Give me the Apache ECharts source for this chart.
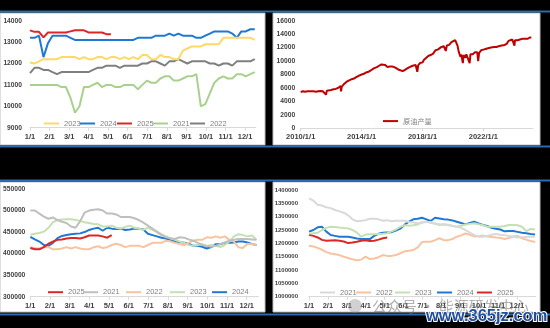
<!DOCTYPE html>
<html><head><meta charset="utf-8">
<script src="https://cdn.jsdelivr.net/npm/echarts@6/dist/echarts.min.js"></script>
<style>html,body{margin:0;padding:0;background:#000}#c{width:550px;height:328px}</style>
</head><body><div id="c"></div>
<script>
// ---------- Chart 1 (top-left): weekly values, week 0 = 1/1 ----------
const c1Years = ['2023','2024','2025','2021','2022'];
const c1_2023 = [12050,12000,12100,12200,12200,12200,12200,12300,12300,12300,12300,12200,12300,12200,12200,12300,12300,12200,12300,12300,12200,12300,12200,12300,12200,12400,12400,12200,12200,12400,12300,12300,12200,12200,12600,12700,12800,12800,12800,12900,12900,12900,12900,13200,13200,13200,13200,13200,13200,13200,13100];
const c1_2024 = [13200,13200,13300,12300,12950,13300,13300,13300,13300,13200,13100,13100,13100,13100,13100,13100,13100,13100,13100,13100,13100,13100,13100,13100,13200,13200,13200,13200,13300,13300,13300,13400,13300,13400,13300,13300,13300,13200,13200,13300,13400,13500,13500,13500,13500,13400,13200,13500,13500,13600,13600];
const c1_2025 = [13550,13480,13480,13220,13450,13450,13450,13450,13450,13500,13550,13550,13550,13450,13450,13450,13450,13370,13370];
const c1_2021 = [11000,11000,11000,11000,11000,11000,11000,10900,10900,10400,9700,10000,10900,10900,11000,11100,10900,11000,11000,10900,10900,11000,11000,11000,10800,11000,11200,11100,11100,11300,11400,11400,11200,11200,11300,11400,11400,11500,10000,10100,10600,11100,11300,11400,11300,11300,11500,11500,11400,11500,11600];
const c1_2022 = [11550,11800,11800,11700,11700,11600,11500,11600,11600,11600,11600,11600,11600,11600,11700,11800,11800,11900,11900,11900,11800,11900,11900,11900,11900,12000,12000,12100,12100,12000,11900,12100,12100,12200,12100,12000,12100,12100,12100,12100,12000,12000,11900,12000,12000,11900,12100,12100,12100,12100,12200];

// ---------- Chart 2 (top-right): crude production, t = years since 2010/1/1 ----------
const prodT = [0,0.15,0.3,0.45,0.55,0.65,0.85,1.0,1.05,1.15,1.3,1.45,1.55,1.66,1.72,1.85,2.0,2.15,2.3,2.45,2.55,2.62,2.65,2.7,2.85,3.0,3.15,3.35,3.5,3.65,3.8,4.0,4.15,4.3,4.45,4.6,4.8,5.0,5.15,5.3,5.42,5.55,5.7,5.85,6.0,6.15,6.3,6.45,6.55,6.7,6.85,7.0,7.15,7.35,7.55,7.62,7.66,7.72,7.85,8.0,8.1,8.25,8.4,8.55,8.7,8.85,9.0,9.1,9.25,9.4,9.5,9.53,9.6,9.75,9.9,10.0,10.15,10.2,10.3,10.38,10.45,10.5,10.55,10.65,10.7,10.78,10.82,10.88,11.0,11.1,11.15,11.3,11.45,11.6,11.66,11.72,11.85,12.0,12.15,12.3,12.5,12.7,12.85,13.0,13.2,13.4,13.55,13.65,13.75,13.9,14.0,14.04,14.08,14.25,14.4,14.55,14.7,14.8,14.9,15.0,15.05,15.1,15.15];
const prodV = [5400,5500,5450,5500,5300,5500,5500,5450,5250,5500,5550,5500,5600,5000,5600,5650,5700,5800,5850,6000,6200,6300,5500,6200,6600,6900,7100,7300,7400,7600,7800,8000,8100,8300,8400,8600,8900,9100,9300,9500,9600,9400,9100,9200,9200,9100,8900,8700,8500,8500,8700,8900,9100,9300,9400,9500,8400,9400,9700,9800,10200,10500,10800,10900,11100,11600,11700,11900,12100,12200,12200,11500,12300,12400,12800,12900,13100,13000,12300,11400,11200,10600,11000,9700,10900,11000,10500,11000,11000,9700,11000,11000,11300,11300,10000,11200,11600,11700,11800,11900,12000,12100,12100,12200,12300,12400,12600,13000,13200,13200,13300,12300,13100,13100,13200,13300,13300,13500,13300,13500,13500,13400,13500];

// ---------- Chart 3 (bottom-left) ----------
const c3Years = ['2025','2021','2022','2023','2024'];
const c3_2025 = [413000,410000,410000,415000,423000,428000,432000,433000,435000,436000,436000,435000,438000,442000,442000,442000,440000,437000,443000];
const c3_2021 = [500000,500000,493000,486000,481000,484000,478000,474000,471000,463000,460000,475000,495000,500000,502000,503000,500000,493000,493000,491000,485000,485000,485000,482000,478000,472000,465000,458000,450000,443000,438000,436000,434000,438000,437000,433000,430000,425000,420000,418000,416000,418000,422000,426000,430000,432000,434000,434000,434000,433000,432000];
const c3_2022 = [415000,413000,412000,415000,415000,410000,410000,412000,415000,412000,415000,412000,410000,410000,415000,417000,413000,415000,420000,423000,420000,415000,418000,418000,418000,415000,420000,425000,425000,425000,430000,428000,425000,422000,420000,425000,430000,432000,432000,438000,437000,440000,437000,440000,432000,428000,415000,413000,423000,422000,420000];
const c3_2023 = [444000,446000,448000,451000,460000,473000,478000,479000,480000,480000,478000,476000,473000,471000,469000,468000,463000,463000,465000,460000,458000,462000,465000,460000,458000,455000,460000,455000,452000,445000,440000,435000,432000,428000,425000,420000,418000,420000,422000,418000,420000,418000,415000,420000,428000,440000,445000,443000,440000,442000,432000];
const c3_2024 = [439000,433000,428000,420000,418000,425000,436000,441000,443000,445000,446000,447000,450000,455000,458000,460000,453000,460000,458000,457000,458000,455000,456000,458000,458000,456000,446000,443000,440000,437000,435000,432000,428000,427000,425000,423000,418000,418000,416000,412000,415000,422000,422000,425000,425000,426000,428000,428000,426000,422000,420000];

// ---------- Chart 4 (bottom-right) ----------
const c4Years = ['2021','2022','2023','2024','2025'];
const c4_2021 = [1369000,1360000,1345000,1342000,1335000,1332000,1325000,1320000,1315000,1305000,1290000,1283000,1285000,1287000,1292000,1292000,1290000,1285000,1287000,1283000,1285000,1285000,1285000,1280000,1278000,1275000,1278000,1280000,1280000,1275000,1272000,1270000,1268000,1265000,1262000,1258000,1250000,1240000,1232000,1225000,1225000,1228000,1232000,1235000,1232000,1230000,1228000,1225000,1222000,1223000,1224000,1225000,1225000];
const c4_2022 = [1191000,1188000,1183000,1176000,1167000,1162000,1159000,1156000,1150000,1145000,1140000,1137000,1139000,1150000,1141000,1143000,1148000,1156000,1153000,1153000,1156000,1163000,1170000,1172000,1175000,1185000,1205000,1206000,1206000,1212000,1219000,1212000,1212000,1216000,1225000,1230000,1237000,1232000,1226000,1227000,1229000,1226000,1224000,1222000,1221000,1216000,1220000,1226000,1228000,1219000,1214000,1209000,1205000];
const c4_2023 = [1237000,1238000,1240000,1250000,1258000,1262000,1261000,1259000,1258000,1256000,1250000,1241000,1225000,1233000,1234000,1234000,1235000,1236000,1238000,1245000,1252000,1262000,1268000,1266000,1268000,1271000,1278000,1281000,1277000,1273000,1269000,1272000,1270000,1266000,1262000,1266000,1271000,1273000,1275000,1272000,1268000,1262000,1262000,1262000,1262000,1265000,1269000,1269000,1268000,1262000,1246000,1254000,1252000];
const c4_2024 = [1244000,1250000,1260000,1262000,1244000,1231000,1228000,1225000,1225000,1225000,1222000,1218000,1216000,1216000,1216000,1228000,1236000,1240000,1241000,1242000,1248000,1255000,1270000,1281000,1290000,1292000,1296000,1290000,1284000,1296000,1293000,1290000,1289000,1286000,1281000,1276000,1271000,1276000,1281000,1275000,1269000,1265000,1258000,1255000,1252000,1245000,1246000,1246000,1243000,1240000,1238000,1235000,1233000];
const c4_2025 = [1232000,1228000,1222000,1213000,1210000,1211000,1212000,1210000,1207000,1201000,1203000,1206000,1210000,1212000,1209000,1210000,1214000,1219000,1222000];

const monthLabels = ['1/1','2/1','3/1','4/1','5/1','6/1','7/1','8/1','9/1','10/1','11/1','12/1'];
const prodName = '原油产量';
// ---------------------------------------------------------------------

const W2M = 7 / 30.44; // week index -> months after 1/1 (date axis position)
const wk = arr => arr.map((v, i) => [i * W2M, v]);

const BLUE = '#1f78d1', RED = '#dd2626';
const colors1 = {'2023':'#ffd966','2024':BLUE,'2025':RED,'2021':'#a9d18e','2022':'#7f7f7f'};
const colors3 = {'2025':RED,'2021':'#bfbfbf','2022':'#f8c3a0','2023':'#c5e0b4','2024':BLUE};
const colors4 = {'2021':'#d9d9d9','2022':'#f8c3a0','2023':'#c5e0b4','2024':BLUE,'2025':RED};
const d1 = {'2023':c1_2023,'2024':c1_2024,'2025':c1_2025,'2021':c1_2021,'2022':c1_2022};
const d3 = {'2025':c3_2025,'2021':c3_2021,'2022':c3_2022,'2023':c3_2023,'2024':c3_2024};
const d4 = {'2021':c4_2021,'2022':c4_2022,'2023':c4_2023,'2024':c4_2024,'2025':c4_2025};

const FONT = 'Liberation Sans';
const axisX = (grid, max, interval, fmt) => ({
  type: 'value', gridIndex: grid, min: 0, max, interval,
  axisLine: {show: true, lineStyle: {color: '#d9d9d9', width: 1}},
  axisTick: {show: true, length: 3, lineStyle: {color: '#d9d9d9'}},
  splitLine: {show: false},
  axisLabel: {formatter: fmt, fontSize: 7.5, fontWeight: 'bold', color: '#404040', margin: 5, showMaxLabel: false, fontFamily: FONT}
});
const axisY = (grid, min, max, interval, fs, margin) => ({
  type: 'value', gridIndex: grid, min, max, interval,
  axisLine: {show: false}, axisTick: {show: false}, splitLine: {show: false},
  axisLabel: {formatter: v => String(Math.round(v)), fontSize: fs, fontWeight: 'bold', color: '#404040', margin, fontFamily: FONT}
});
const mFmt = v => monthLabels[Math.round(v)] || '';

const series = [];
const legends = [];
const legendBase = {itemWidth: 15, itemHeight: 2, itemGap: 0, icon: 'rect', selectedMode: false, padding: 0};
function addChart(idx, prefix, years, data, colors, legendLefts, legendTop) {
  years.forEach((y, k) => {
    const name = prefix + '_' + y;
    series.push({
      name, type: 'line', xAxisIndex: idx, yAxisIndex: idx, data: wk(data[y]),
      symbol: 'none', showSymbol: false, animation: false,
      lineStyle: {width: 2, color: colors[y]}, itemStyle: {color: colors[y]},
      z: 2 + (years.length - k)
    });
    legends.push(Object.assign({}, legendBase, {
      left: legendLefts[k], top: legendTop, data: [name], formatter: n => n.split('_')[1],
      textStyle: {fontSize: 7.5, color: '#808080', fontFamily: FONT}
    }));
  });
}
addChart(0, 'a', c1Years, d1, colors1, [44, 80, 117, 153, 190], 119.5);
addChart(2, 'c', c3Years, d3, colors3, [48, 83, 126, 170, 212], 288.2);
addChart(3, 'd', c4Years, d4, colors4, [320, 356, 395, 437, 477], 288.5);

series.push({
  name: prodName, type: 'line', xAxisIndex: 1, yAxisIndex: 1,
  data: prodT.map((t, i) => [t, prodV[i]]),
  symbol: 'none', showSymbol: false, animation: false,
  lineStyle: {width: 2, color: '#c00000'}, itemStyle: {color: '#c00000'}
});
legends.push(Object.assign({}, legendBase, {
  left: 383, top: 117.5, data: [prodName],
  textStyle: {fontSize: 7.2, color: '#808080', fontFamily: 'Noto Sans CJK SC'}
}));

const SEP = '#2a6aae';
const graphic = [
  {type: 'rect', z: -10, shape: {x: 0, y: 13, width: 265, height: 132}, style: {fill: '#fff', stroke: '#bfbfbf', lineWidth: 1}},
  {type: 'rect', z: -10, shape: {x: 273, y: 13, width: 267, height: 132}, style: {fill: '#fff', stroke: '#bfbfbf', lineWidth: 1}},
  {type: 'rect', z: -10, shape: {x: 0, y: 182, width: 265, height: 130}, style: {fill: '#fff', stroke: '#bfbfbf', lineWidth: 1}},
  {type: 'rect', z: -10, shape: {x: 273, y: 182, width: 267, height: 130}, style: {fill: '#fff', stroke: '#bfbfbf', lineWidth: 1}},
  {type: 'rect', z: -5, shape: {x: 0, y: 10.5, width: 550, height: 2}, style: {fill: SEP}},
  {type: 'rect', z: -5, shape: {x: 0, y: 145.5, width: 550, height: 2}, style: {fill: SEP}},
  {type: 'rect', z: -5, shape: {x: 0, y: 179.5, width: 550, height: 2}, style: {fill: SEP}},
  {type: 'rect', z: -5, shape: {x: 0, y: 313.5, width: 550, height: 2}, style: {fill: SEP}},
  // watermark
  {type: 'circle', z: 50, shape: {cx: 355, cy: 306, r: 7}, style: {fill: 'rgba(140,140,140,0.4)'}},
  {type: 'text', z: 50, style: {x: 372, y: 306, text: '公众号 · 能源研发中心', fill: 'rgba(110,110,110,0.55)', font: '15px "Noto Sans CJK SC"', textVerticalAlign: 'middle'}},
  {type: 'text', z: 51, style: {x: 426, y: 325, text: 'www.365jz.com', fill: '#1f4f9f', stroke: '#ffffff', lineWidth: 2, font: 'bold 16.5px "Liberation Sans"', textVerticalAlign: 'bottom'}}
];

const option = {
  backgroundColor: '#000',
  animation: false,
  textStyle: {fontFamily: FONT},
  graphic,
  grid: [
    {left: 30, top: 20.7, width: 225.8, height: 107},
    {left: 300.7, top: 20.7, width: 232.3, height: 107.6},
    {left: 30, top: 189, width: 228.5, height: 107.7},
    {left: 309, top: 190, width: 226.8, height: 106.7}
  ],
  xAxis: [
    axisX(0, 11.55, 1, mFmt),
    axisX(1, 15.26, 4, v => (2010 + Math.round(v)) + '/1/1'),
    axisX(2, 11.6, 1, mFmt),
    axisX(3, 12, 1, mFmt)
  ],
  yAxis: [
    axisY(0, 9000, 14000, 1000, 6.7, 8),
    axisY(1, 0, 16000, 2000, 6.7, 5.5),
    axisY(2, 300000, 550000, 50000, 6.7, 5),
    axisY(3, 1000000, 1400000, 50000, 6, 11)
  ],
  legend: legends,
  series
};
const chart = echarts.init(document.getElementById('c'), null, {renderer: 'canvas'});
chart.setOption(option);
</script></body></html>
